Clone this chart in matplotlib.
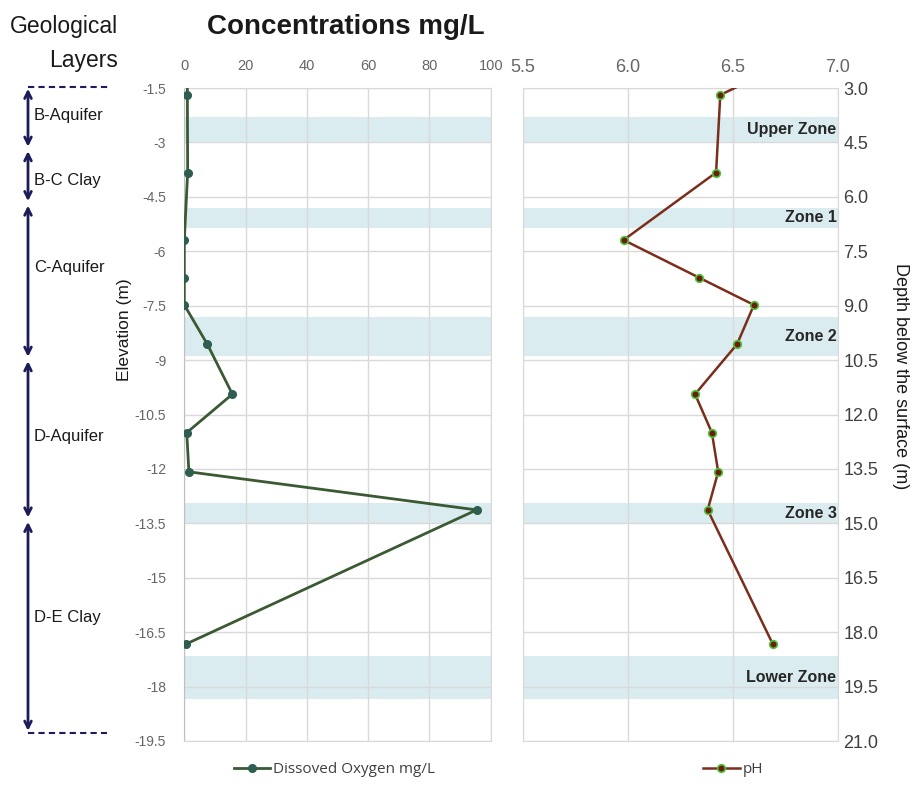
import numpy as np
import matplotlib
matplotlib.use("Agg")
import matplotlib.pyplot as plt

plt.rcParams['font.family'] = ['Liberation Sans', 'DejaVu Sans']

# sampling depths below the surface (m), shared by both profiles
depth = [2.5, 3.19, 5.33, 7.19, 8.23, 8.98, 10.06, 11.44, 12.50, 13.58, 14.63, 18.33]
dissolved_oxygen = [1.0, 1.0, 1.1, 0.0, 0.0, 0.0, 7.5, 15.7, 0.8, 1.5, 95.4, 0.5]
ph = [6.69, 6.44, 6.42, 5.98, 6.34, 6.60, 6.52, 6.32, 6.40, 6.43, 6.38, 6.69]

# sampled zones (depth range, m)
zone_names = ["Upper Zone", "Zone 1", "Zone 2", "Zone 3", "Lower Zone"]
zone_top = [3.8, 6.3, 9.3, 14.45, 18.65]
zone_bottom = [4.5, 6.85, 10.4, 15.0, 19.85]

# geological layers (elevation boundaries, m)
layer_names = ["B-Aquifer", "B-C Clay", "C-Aquifer", "D-Aquifer", "D-E Clay"]
layer_bounds = [-1.46, -3.18, -4.68, -8.97, -13.4, -19.28]
layer_label_y = [-2.27, -4.06, -6.45, -11.1, -16.1]

elev_ticks = np.arange(-1.5, -19.6, -1.5)
depth_ticks = np.arange(3.0, 21.1, 1.5)
surface_offset = 1.5   # elevation = surface_offset - depth

elevation = [surface_offset - d for d in depth]

W, H = 919, 793
fig = plt.figure(figsize=(W / 100, H / 100), dpi=100)

def frac(x0, y0, x1, y1):
    return [x0 / W, 1 - y1 / H, (x1 - x0) / W, (y1 - y0) / H]

ax_do = fig.add_axes(frac(184.3, 88, 490.7, 741))
ax_ph = fig.add_axes(frac(522.7, 88, 838, 741))
ax_geo = fig.add_axes(frac(0, 88, 184.3, 741))

grid_c = '#d9d9d9'
band_c = '#daecef'
narrow_bold = ['Liberation Sans Narrow', 'Liberation Sans']

# ---- dissolved oxygen panel ----
for t, b in zip(zone_top, zone_bottom):
    ax_do.axhspan(surface_offset - b, surface_offset - t, color=band_c, lw=0, zorder=0)
ax_do.plot(dissolved_oxygen, elevation, color='#3b5a34', lw=2, marker='o', ms=5.5,
           mfc='#2e5e50', mec='#2e5e50', zorder=3, label='Dissoved Oxygen mg/L')
ax_do.set_xlim(0, 100)
ax_do.set_ylim(-19.5, -1.5)
ax_do.set_xticks(np.arange(0, 101, 20))
ax_do.set_yticks(elev_ticks)
ax_do.set_yticklabels([f"{v:g}" for v in elev_ticks])
ax_do.xaxis.tick_top()
ax_do.tick_params(axis='x', length=0, pad=11, labelsize=10.5, labelcolor='#666666')
ax_do.tick_params(axis='y', length=0, pad=13, labelsize=10, labelcolor='#666666')
ax_do.grid(True, color=grid_c, lw=1)
ax_do.set_axisbelow(True)
for s in ax_do.spines.values():
    s.set_color(grid_c)
ax_do.spines['left'].set_color('#bfbfbf')

# ---- pH panel ----
for t, b, name in zip(zone_top, zone_bottom, zone_names):
    ax_ph.axhspan(t, b, color=band_c, lw=0, zorder=0)
    ax_ph.text(0.995, (t + b) / 2, name, transform=ax_ph.get_yaxis_transform(),
               ha='right', va='center', fontsize=11.5, fontweight='bold',
               family=narrow_bold, color='#262626', zorder=4)
ax_ph.plot(ph, depth, color='#7a2e1c', lw=1.8, marker='o', ms=5.5,
           mfc='#6e1c0c', mec='#4cc33a', mew=1.2, zorder=3, label='pH')
ax_ph.set_xlim(5.5, 7.0)
ax_ph.set_ylim(21.0, 3.0)
ax_ph.set_xticks([5.5, 6.0, 6.5, 7.0])
ax_ph.set_xticklabels([f"{v:.1f}" for v in [5.5, 6.0, 6.5, 7.0]])
ax_ph.set_yticks(depth_ticks)
ax_ph.set_yticklabels([f"{v:.1f}" for v in depth_ticks])
ax_ph.xaxis.tick_top()
ax_ph.yaxis.tick_right()
ax_ph.tick_params(axis='x', length=0, pad=9, labelsize=13, labelcolor='#666666')
ax_ph.tick_params(axis='y', length=0, pad=4, labelsize=13, labelcolor='#404040')
ax_ph.grid(True, color=grid_c, lw=1)
ax_ph.set_axisbelow(True)
for s in ax_ph.spines.values():
    s.set_color(grid_c)

# ---- geological layer column ----
navy = '#1c1c5a'
ax_geo.set_xlim(0, 184.3)
ax_geo.set_ylim(-19.5, -1.5)
ax_geo.axis('off')
for top, bot in zip(layer_bounds[:-1], layer_bounds[1:]):
    ax_geo.annotate('', xy=(28, bot + 0.06), xytext=(28, top - 0.06),
                    arrowprops=dict(arrowstyle='<->', color=navy, lw=2,
                                    shrinkA=0, shrinkB=0, mutation_scale=12))
for name, y in zip(layer_names, layer_label_y):
    ax_geo.text(34, y, name, ha='left', va='center', fontsize=12, color='#1a1a1a')
ax_geo.plot([28, 110], [layer_bounds[0]] * 2, color=navy, lw=1.5, ls=(0, (3, 2)), clip_on=False)
ax_geo.plot([28, 107], [layer_bounds[-1]] * 2, color=navy, lw=1.5, ls=(0, (3, 2)), clip_on=False)

# ---- titles and axis labels ----
fig.text(118 / W, 1 - 27 / H, "Geological", ha='right', va='center', fontsize=16.5, color='#1a1a1a')
fig.text(118 / W, 1 - 61 / H, "Layers", ha='right', va='center', fontsize=16.5, color='#1a1a1a')
fig.text(346 / W, 1 - 27 / H, "Concentrations mg/L", ha='center', va='center', fontsize=20,
         fontweight='bold', family=narrow_bold, color='#1a1a1a')
fig.text(124 / W, 1 - 330 / H, "Elevation (m)", rotation=90, ha='center', va='center',
         fontsize=12.5, color='#1a1a1a')
fig.text(900 / W, 1 - 376 / H, "Depth below the surface (m)", rotation=270, ha='center',
         va='center', fontsize=13, color='#1a1a1a')

# ---- legends ----
for ax, x_anchor in [(ax_do, 0.49), (ax_ph, 0.667)]:
    h, l = ax.get_legend_handles_labels()
    ax.legend(h, l, bbox_to_anchor=(x_anchor, -0.044), loc='center', frameon=False,
              handlelength=2.4, handletextpad=0.2, labelcolor='#404040',
              prop={'family': ['Open Sans', 'DejaVu Sans'], 'size': 11})

fig.savefig("out.png", dpi=100)
